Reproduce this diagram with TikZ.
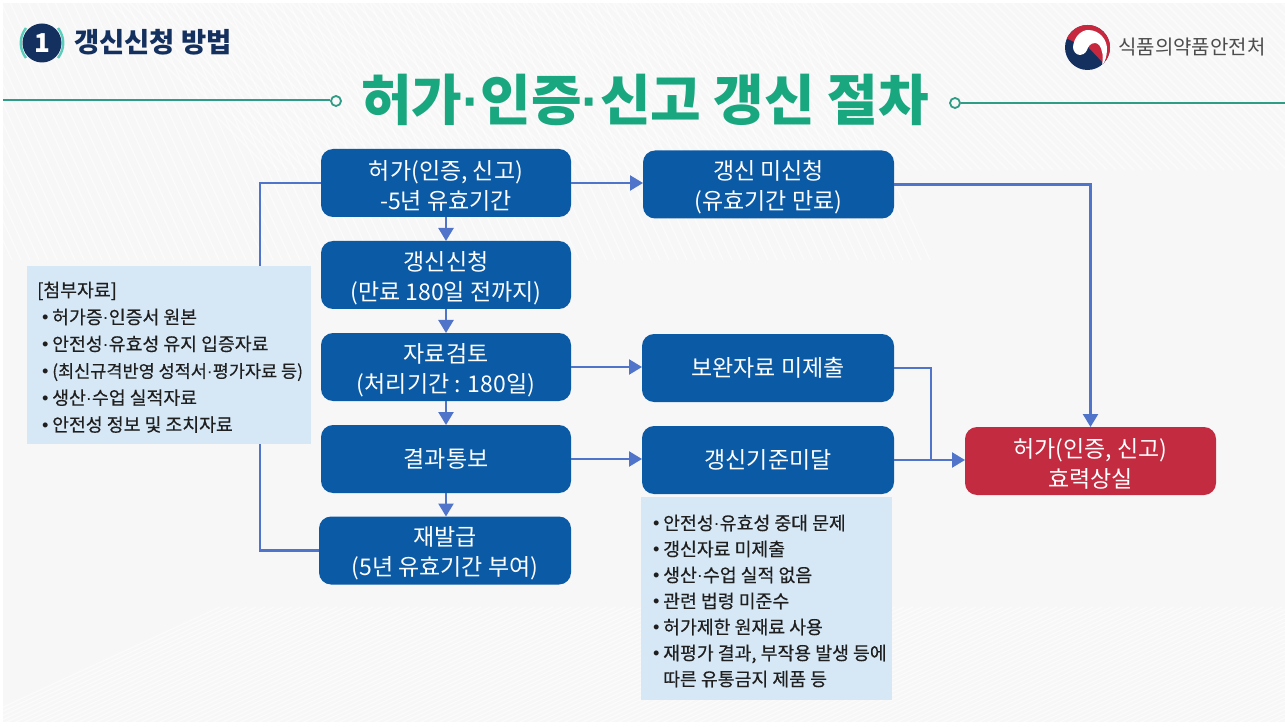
\documentclass[tikz,border=0pt]{standalone}
\usepackage{fontspec}
\setmainfont{Noto Sans CJK KR}
\newfontfamily\dotfont{Liberation Sans}
\newfontfamily\medfont[FakeBold=0.35]{Noto Sans CJK KR}
\newcommand{\mdot}{{\dotfont ·}}
\newcommand{\bul}{\makebox[15pt][l]{\hspace{5pt}{\dotfont •}}}
\newcommand{\toppad}{\rule{0pt}{25pt}}
\usetikzlibrary{arrows.meta,calc}
\definecolor{boxblue}{HTML}{0B5AA5}
\definecolor{alarm}{HTML}{C22B40}
\definecolor{wire}{HTML}{4F74C9}
\definecolor{notefill}{HTML}{D6E8F6}
\definecolor{titlegreen}{HTML}{19A77F}
\definecolor{rulegreen}{HTML}{2F9C86}
\definecolor{navy}{HTML}{14305F}
\definecolor{paper}{HTML}{F7F7F7}
\definecolor{logored}{HTML}{C8283E}
\definecolor{halo}{HTML}{5CCDBB}
\tikzset{
  x=1pt,y=-1pt,
  stepbox/.style={fill=boxblue,rounded corners=12pt,minimum width=250pt,minimum height=68pt,inner sep=0pt,outer sep=0pt,text=white,align=center,font=\fontsize{23}{30}\selectfont},
  redbox/.style={stepbox,fill=alarm},
  notebox/.style={fill=notefill,inner sep=0pt,outer sep=0pt,anchor=north west},
  notetext/.style={anchor=north west,inner sep=0pt,align=left,text=black!88,font=\medfont\fontsize{18.3}{26.9}\selectfont},
  link/.style={draw=wire,line width=2.4pt},
  linkarrow/.style={link,-{Triangle[length=13pt,width=15pt]}},
  stripe/.style={draw=white,line width=1.1pt,opacity=.6},
}
\begin{document}
\begin{tikzpicture}
\useasboundingbox (0,0) rectangle (1285,727);
\fill[white] (0,0) rectangle (1285,727);
\fill[paper] (3,3) rectangle (1285,722);
\begin{scope}
\clip (3,3) rectangle (1285,722);
\foreach \i in {-60,...,90} {
  \draw[stripe] (\i*9,0) -- ++(120,260);
  \draw[stripe] (\i*9+500,727) -- ++(260,-120);
  \draw[stripe] (\i*9+640,0) -- ++(170,170);
}
\end{scope}

% header
\node[draw=rulegreen,line width=1.8pt,circle,minimum size=10pt,inner sep=0pt] (ca) at (336,101) {};
\node[draw=rulegreen,line width=1.8pt,circle,minimum size=10pt,inner sep=0pt] (cb) at (955,103) {};
\coordinate (ruleL) at (3,100);
\coordinate (ruleR) at (1285,103);
\draw[rulegreen,line width=2.5pt] (ruleL) -- (ruleL -| ca.west);
\draw[rulegreen,line width=2.5pt] (cb.east) -- (ruleR);
\node[text=titlegreen,inner sep=0pt,font=\fontsize{55}{55}\bfseries\selectfont] (title) at (645,100) {허가\mdot 인증\mdot 신고 갱신 절차};

\draw[halo,line width=2.4pt] (26,28) .. controls (19,37) and (19,49) .. (26,58);
\draw[halo,line width=2.4pt] (58,28) .. controls (65,37) and (65,49) .. (58,58);
\node[circle,fill=navy,minimum size=39pt,inner sep=0pt,text=white,font=\fontsize{26}{26}\bfseries\selectfont] (num) at (42,43) {1};
\node[text=navy,anchor=west,inner sep=0pt,font=\fontsize{27.4}{27.4}\bfseries\selectfont] (head) at (74,42) {갱신신청 방법};

% logo
\begin{scope}
\clip (1087.5,47.5) circle (22.5);
\fill[navy] (1060,20) rectangle (1115,75);
\fill[logored] (1064,37) -- (1074,42) -- (1088,47) -- (1108,68) -- (1115,68) -- (1115,20) -- (1064,20) -- cycle;
\fill[white] (1073,47) .. controls (1074,36) and (1082,30) .. (1088,30) .. controls (1100,30) and (1107,40) .. (1107,49) .. controls (1107,56) and (1105,62) .. (1102,66) .. controls (1103,58) and (1103,55) .. (1102,52) .. controls (1101,46) and (1098,43) .. (1095,43) .. controls (1090,43) and (1088,47) .. (1087,50) .. controls (1085,54) and (1082,55) .. (1080,55) .. controls (1076,55) and (1073,51) .. (1073,47) -- cycle;
\end{scope}
\node[text=black!70,anchor=west,inner sep=0pt,font=\fontsize{20}{20}\selectfont] (org) at (1118,47) {식품의약품안전처};

% process boxes
\node[stepbox] (A) at (446,183) {\toppad 허가(인증, 신고)\\-5년 유효기간};
\node[stepbox] (B) at (446,275) {\toppad 갱신신청\\(만료 180일 전까지)};
\node[stepbox] (C) at (446,367) {\toppad 자료검토\\(처리기간 : 180일)};
\node[stepbox] (D) at (446,459) {결과통보};
\node[stepbox,minimum width=252pt] (E) at (445,550.5) {\toppad 재발급\\(5년 유효기간 부여)};
\node[stepbox,minimum width=251pt] (F) at (768.5,184.5) {\toppad 갱신 미신청\\(유효기간 만료)};
\node[stepbox,minimum width=252pt] (G) at (768,368) {보완자료 미제출};
\node[stepbox,minimum width=252pt] (H) at (768,460) {갱신기준미달};
\node[redbox,minimum width=251pt] (R) at (1090.5,461) {\toppad 허가(인증, 신고)\\효력상실};

% connectors
\coordinate (leftbus) at (260,300);
\coordinate (join) at (931,460);
\draw[link] (A.west) -| (leftbus) |- (E.west);
\draw[linkarrow] (A.south) -- (B.north);
\draw[linkarrow] (B.south) -- (C.north);
\draw[linkarrow] (C.south) -- (D.north);
\draw[linkarrow] (D.south) -- (D.south |- E.north);
\draw[linkarrow] (A.east) -- (A.east -| F.west);
\draw[linkarrow] (C.east) -- (C.east -| G.west);
\draw[linkarrow] (D.east) -- (D.east -| H.west);
\draw[linkarrow] (F.east) -| (R.north);
\draw[link] (G.east) -| (join);
\draw[linkarrow] (H.east) -- (H.east -| R.west);

% note panels
\node[notebox,minimum width=284pt,minimum height=178pt] (noteL) at (27,266) {};
\node[notetext] (noteLt) at (37,281.5) {[첨부자료]\\\bul 허가증\mdot 인증서 원본\\\bul 안전성\mdot 유효성 유지 입증자료\\\bul {\fontsize{17.5}{26.9}\selectfont (최신규격반영 성적서\mdot 평가자료 등)}\\\bul 생산\mdot 수업 실적자료\\\bul 안전성 정보 및 조치자료};
\node[notebox,minimum width=251pt,minimum height=203pt] (noteB) at (641,497) {};
\node[notetext,font=\medfont\fontsize{18.3}{26}\selectfont] (noteBt) at (648,514.5) {\bul 안전성\mdot 유효성 중대 문제\\\bul 갱신자료 미제출\\\bul 생산\mdot 수업 실적 없음\\\bul 관련 법령 미준수\\\bul 허가제한 원재료 사용\\\bul 재평가 결과, 부작용 발생 등에\\\hspace{15pt}따른 유통금지 제품 등};
\end{tikzpicture}
\end{document}
